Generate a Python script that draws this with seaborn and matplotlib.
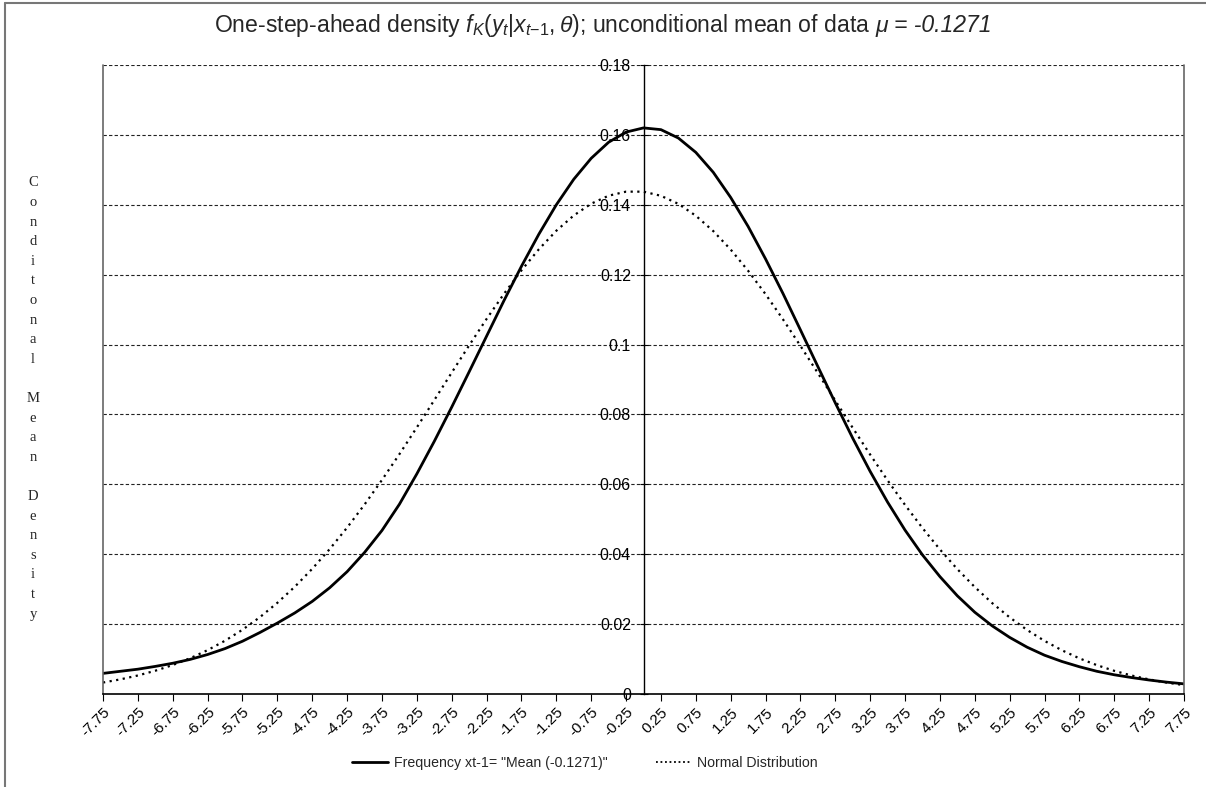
import numpy as np
import pandas as pd
import matplotlib
matplotlib.use("Agg")
import matplotlib.pyplot as plt
import seaborn as sns
from matplotlib.lines import Line2D

# ---------------- data ----------------
x_values = np.arange(-7.75, 7.76, 0.25)

conditional_density = [
    0.0059, 0.0065, 0.0071, 0.0079, 0.0088, 0.0099, 0.0113, 0.0130, 0.0151, 0.0176,
    0.0203, 0.0232, 0.0265, 0.0304, 0.0350, 0.0405, 0.0468, 0.0543, 0.0630, 0.0723,
    0.0821, 0.0922, 0.1024, 0.1126, 0.1224, 0.1316, 0.1400, 0.1473, 0.1533, 0.1579,
    0.1608, 0.1620, 0.1615, 0.1591, 0.1550, 0.1493, 0.1421, 0.1338, 0.1245, 0.1146,
    0.1042, 0.0937, 0.0833, 0.0732, 0.0637, 0.0549, 0.0469, 0.0398, 0.0336, 0.0281,
    0.0234, 0.0195, 0.0162, 0.0134, 0.0111, 0.0093, 0.0078, 0.0065, 0.0055, 0.0047,
    0.0040, 0.0034, 0.0029,
]

normal_density = [
    0.00328, 0.00419, 0.00530, 0.00666, 0.00829, 0.01024, 0.01255, 0.01525, 0.01839, 0.02199,
    0.02609, 0.03069, 0.03582, 0.04146, 0.04761, 0.05422, 0.06125, 0.06863, 0.07629, 0.08410,
    0.09197, 0.09976, 0.10733, 0.11453, 0.12123, 0.12728, 0.13257, 0.13694, 0.14031, 0.14260,
    0.14376, 0.14375, 0.14257, 0.14026, 0.13687, 0.13248, 0.12719, 0.12112, 0.11442, 0.10721,
    0.09963, 0.09184, 0.08398, 0.07616, 0.06851, 0.06113, 0.05411, 0.04750, 0.04137, 0.03573,
    0.03061, 0.02601, 0.02193, 0.01833, 0.01520, 0.01251, 0.01020, 0.00826, 0.00663, 0.00528,
    0.00417, 0.00327, 0.00254,
]

x_tick_labels = ["-7.75", "-7.25", "-6.75", "-6.25", "-5.75", "-5.25", "-4.75", "-4.25",
                 "-3.75", "-3.25", "-2.75", "-2.25", "-1.75", "-1.25", "-0.75", "-0.25",
                 "0.25", "0.75", "1.25", "1.75", "2.25", "2.75", "3.25", "3.75",
                 "4.25", "4.75", "5.25", "5.75", "6.25", "6.75", "7.25", "7.75"]
y_tick_labels = ["0", "0.02", "0.04", "0.06", "0.08", "0.1", "0.12", "0.14", "0.16", "0.18"]

series_solid = 'Frequency xt-1= "Mean (-0.1271)"'
series_dotted = "Normal Distribution"
title_main = (r"One-step-ahead density $\mathit{f_{K}(y_{t}|x_{t{-}1},\theta)}$; "
              r"unconditional mean of data")
title_italic = "\u03bc = -0.1271"
y_label_text = "Conditonal Mean Density"

# ---------------- style ----------------
sns.set_theme(style="white")
plt.rcParams["font.family"] = ["Liberation Sans", "DejaVu Sans"]
plt.rcParams["mathtext.fontset"] = "custom"
plt.rcParams["mathtext.rm"] = "Liberation Sans"
plt.rcParams["mathtext.it"] = "Liberation Sans:italic"
plt.rcParams["mathtext.bf"] = "Liberation Sans:bold"

W, H = 1206, 787
fig = plt.figure(figsize=(W / 100, H / 100), dpi=100)
ax = fig.add_axes([103 / W, 1 - 694 / H, (1184 - 103) / W, (694 - 65) / H])

df = pd.DataFrame({"x": x_values, "solid": conditional_density, "dotted": normal_density})

sns.lineplot(data=df, x="x", y="solid", ax=ax, color="black", linewidth=2.0,
             label=series_solid)
sns.lineplot(data=df, x="x", y="dotted", ax=ax, color="black", linewidth=1.6,
             linestyle=(0, (1, 2)), label=series_dotted)
for ln in ax.get_lines():
    ln.set_solid_joinstyle("round")

ax.set_xlim(-7.75, 7.75)
ax.set_ylim(0, 0.18)

# horizontal dashed grid
y_ticks = [float(v) for v in y_tick_labels]
for yv in y_ticks[1:]:
    ax.axhline(yv, color="#222222", linewidth=0.8, linestyle=(0, (3, 2)), zorder=0)

# spines
ax.spines["left"].set_position(("data", 0))
ax.spines["left"].set_color("black")
ax.spines["left"].set_linewidth(1.0)
ax.spines["bottom"].set_color("black")
ax.spines["bottom"].set_linewidth(1.2)
ax.spines["top"].set_visible(False)
ax.spines["right"].set_visible(False)
ax.add_line(Line2D([0, 0], [0, 1], transform=ax.transAxes, color="#666666", lw=1.2, clip_on=False))
ax.add_line(Line2D([1, 1], [0, 1], transform=ax.transAxes, color="#666666", lw=1.2, clip_on=False))

ax.set_yticks(y_ticks)
ax.set_yticklabels(y_tick_labels, fontsize=11.5)
ax.tick_params(axis="y", direction="inout", length=6, width=0.8, pad=6, colors="black", left=True)

x_ticks = [float(v) for v in x_tick_labels]
ax.set_xticks(x_ticks)
ax.set_xticklabels(x_tick_labels, fontsize=11, rotation=45, ha="right", rotation_mode="anchor")
ax.tick_params(axis="x", direction="out", length=5, width=0.8, pad=3, colors="black", bottom=True)

ax.set_xlabel("")
ax.set_ylabel("")
ax.get_legend().remove()

# title: upright part + italic part, centred as a whole
fs_title = 16.6
base_y = 1 - 32 / H
t1 = fig.text(0, base_y, title_main, ha="left", va="baseline", fontsize=fs_title)
t2 = fig.text(0, base_y, title_italic, ha="left", va="baseline", fontsize=fs_title,
              style="italic")
renderer = fig.canvas.get_renderer()
w1 = t1.get_window_extent(renderer).width
w2 = t2.get_window_extent(renderer).width
gap = 6
x_start = 603 - (w1 + gap + w2) / 2
t1.set_x(x_start / W)
t2.set_x((x_start + w1 + gap) / W)

# vertical stacked y-axis label
step = 19.6
for i, ch in enumerate(y_label_text):
    if ch != " ":
        fig.text(33 / W, 1 - (183 + i * step) / H, ch, ha="center", va="center",
                 fontsize=10.5, family=["Liberation Serif", "DejaVu Serif"])

# legend
handles = [Line2D([], [], color="black", lw=2.0),
           Line2D([], [], color="black", lw=1.3, linestyle=(0, (1, 1.5)))]
fig.legend(handles, [series_solid, series_dotted], loc="center",
           bbox_to_anchor=(585 / W, 1 - 763 / H), ncol=2, frameon=False, fontsize=10.2,
           handlelength=2.55, columnspacing=3.4, handletextpad=0.4)

# chart-area frame (left and top edges visible)
fig.add_artist(Line2D([5 / W, 5 / W], [0, 1 - 3 / H], transform=fig.transFigure,
                      color="#777777", lw=1.5))
fig.add_artist(Line2D([5 / W, 1], [1 - 3 / H, 1 - 3 / H], transform=fig.transFigure,
                      color="#777777", lw=1.5))

fig.savefig("out.png", dpi=100)
